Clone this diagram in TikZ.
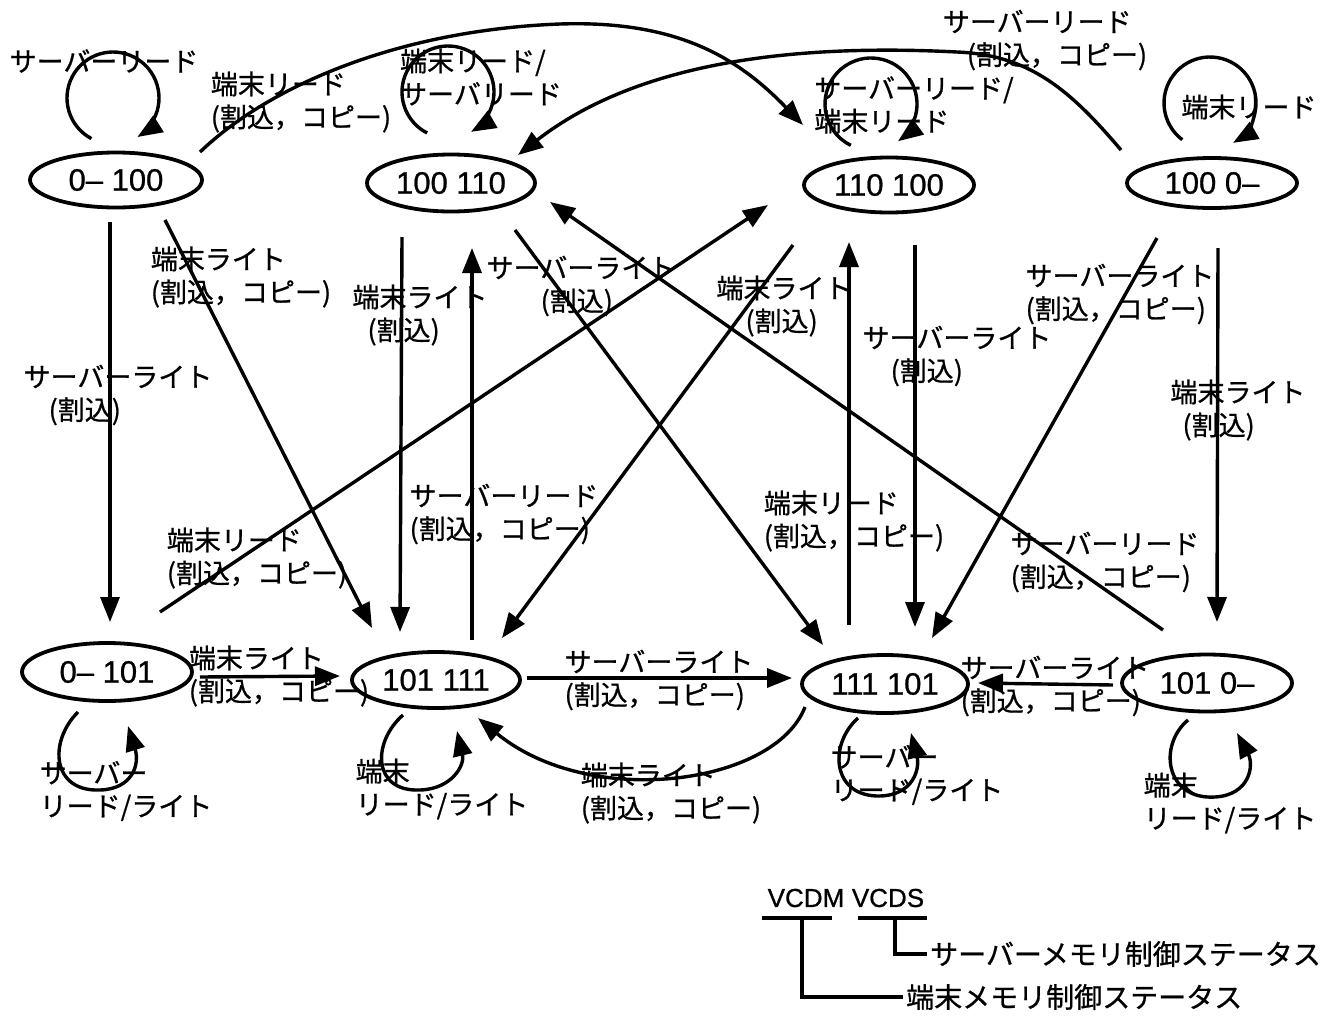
\documentclass[tikz,border=0pt]{standalone}
\usepackage{fontspec}
\setmainfont[FakeBold=0.8]{Noto Sans CJK JP}
\newfontfamily\numfont[FakeBold=0.8]{Liberation Sans}
\usetikzlibrary{shapes.geometric,arrows.meta,calc}
\newcommand\lblsz{\fontsize{27}{33}\selectfont}
\newcommand\stsz{\numfont\fontsize{31}{36}\selectfont}
\newcommand\lgsz{\fontsize{28}{34}\selectfont}
\newcommand\lgnum{\numfont\fontsize{26}{32}\selectfont}
\begin{document}
\begin{tikzpicture}[x=1pt,y=-1pt,
  st/.style={ellipse,draw,line width=3.8pt,inner sep=0pt,font=\stsz},
  lb/.style={font=\lblsz,align=left,inner sep=0pt},
  arr/.style={line width=3.4pt,-{Triangle[length=25pt,width=19pt]}},
  ln/.style={line width=3.3pt},
  lg/.style={font=\lgsz,inner sep=0pt}]
\path[fill=white] (0,0) rectangle (1333,1015);
\useasboundingbox (0,0) rectangle (1333,1015);

% states
\node[st,minimum width=172pt,minimum height=55pt] (A) at (116,180) {0– 100};
\node[st,minimum width=168pt,minimum height=57pt] (B) at (451,183) {100 110};
\node[st,minimum width=170pt,minimum height=55pt] (C) at (889,185) {110 100};
\node[st,minimum width=170pt,minimum height=50pt] (D) at (1212,183) {100 0–};
\node[st,minimum width=170pt,minimum height=58pt] (E) at (107,672) {0– 101};
\node[st,minimum width=168pt,minimum height=56pt] (F) at (436,680) {101 111};
\node[st,minimum width=166pt,minimum height=58pt] (G) at (885,684) {111 101};
\node[st,minimum width=170pt,minimum height=57pt] (H) at (1207,683) {101 0–};

% labels
\node[lb] (l1) at (104,61) {サーバーリード};
\node[lb] (l2) at (301,102) {端末リード\\(割込，コピー)};
\node[lb] (l3) at (481,77) {端末リード/\\サーバリード};
\node[lb] (l4) at (914,105) {サーバーリード/\\端末リード};
\node[lb] (l5) at (1045,40) {サーバーリード\\\hspace*{24pt}(割込，コピー)};
\node[lb] (l6) at (1249,107) {端末リード};
\node[lb] (l7) at (118,395) {サーバーライト\\\hspace*{25pt}(割込)};
\node[lb] (l8) at (241,277) {端末ライト\\(割込，コピー)};
\node[lb] (l9) at (420,315) {端末ライト\\\hspace*{15pt}(割込)};
\node[lb] (l10) at (581,286) {サーバーライト\\\hspace*{54pt}(割込)};
\node[lb] (l11) at (504,514) {サーバーリード\\(割込，コピー)};
\node[lb] (l12) at (257,558) {端末リード\\(割込，コピー)};
\node[lb] (l13) at (784,306) {端末ライト\\\hspace*{29pt}(割込)};
\node[lb] (l14) at (957,356) {サーバーライト\\\hspace*{28pt}(割込)};
\node[lb] (l15) at (854,521) {端末リード\\(割込，コピー)};
\node[lb] (l16) at (1120,294) {サーバーライト\\(割込，コピー)};
\node[lb] (l17) at (1238,410) {端末ライト\\\hspace*{12pt}(割込)};
\node[lb] (l18) at (1105,562) {サーバーリード\\(割込，コピー)};
\node[lb] (l19) at (279,676) {端末ライト\\(割込，コピー)};
\node[lb] (l20) at (126,791) {サーバー\\リード/ライト};
\node[lb] (l21) at (442,789) {端末\\リード/ライト};
\node[lb] (l22) at (659,680) {サーバーライト\\(割込，コピー)};
\node[lb] (l23) at (671,793) {端末ライト\\(割込，コピー)};
\node[lb] (l24) at (917,775) {サーバー\\リード/ライト};
\node[lb] (l25) at (1055,686) {サーバーライト\\(割込，コピー)};
\node[lb] (l26) at (1230,803) {端末\\リード/ライト};

% long curves at the top
\draw[arr] ($(A)+(84,-28)$) .. controls (270,85) and (400,30) .. (560,24)
  .. controls (680,20) and (740,60) .. ($(C)+(-86,-60)$);
\draw[arr] ($(D)+(-91,-33)$) .. controls (1070,90) and (1030,55) .. (957,52)
  .. controls (800,44) and (640,60) .. ($(B)+(67,-28)$);

% self loops (top)
\draw[arr] ($(A)+(-3,-82)+(118:46)$) arc[start angle=118,end angle=418,radius=46];
\draw[arr] ($(B)+(-3,-91)+(117:46)$) arc[start angle=117,end angle=420,radius=46];
\draw[arr] ($(C)+(-18,-81)+(116:46)$) arc[start angle=116,end angle=414,radius=46];
\draw[arr] ($(D)+(-2,-80)+(127:46)$) arc[start angle=127,end angle=420,radius=46];

% self loops (bottom)
\draw[arr] ($(E)+(-29,40)$) .. controls ($(E)+(-59,70)$) and ($(E)+(-55,120)$) .. ($(E)+(-7,118)$)
  .. controls ($(E)+(25,117)$) and ($(E)+(33,93)$) .. ($(E)+(21,54)$);
\draw[arr] ($(F)+(-33,35)$) .. controls ($(F)+(-64,62)$) and ($(F)+(-64,112)$) .. ($(F)+(-16,110)$)
  .. controls ($(F)+(16,109)$) and ($(F)+(29,85)$) .. ($(F)+(21,51)$);
\draw[arr] ($(G)+(-27,34)$) .. controls ($(G)+(-57,61)$) and ($(G)+(-53,113)$) .. ($(G)+(-5,112)$)
  .. controls ($(G)+(29,111)$) and ($(G)+(35,84)$) .. ($(G)+(26,49)$);
\draw[arr] ($(H)+(-19,37)$) .. controls ($(H)+(-49,62)$) and ($(H)+(-42,117)$) .. ($(H)+(8,114)$)
  .. controls ($(H)+(43,112)$) and ($(H)+(47,82)$) .. ($(H)+(30,50)$);

% straight transitions
\draw[arr] ($(A)+(-6,42)$) -- ($(E)+(3,-50)$);
\draw[arr] ($(A)+(49,40)$) -- ($(F)+(-64,-52)$);
\draw[arr] ($(B)+(-49,54)$) -- ($(F)+(-36,-48)$);
\draw[arr] ($(F)+(36,-40)$) -- ($(B)+(21,65)$);
\draw[arr] ($(B)+(64,47)$) -- ($(G)+(-62,-39)$);
\draw[arr] ($(H)+(-44,-53)$) -- ($(B)+(99,19)$);
\draw[arr] ($(E)+(53,-60)$) -- ($(C)+(-121,20)$);
\draw[arr] ($(C)+(-96,60)$) -- ($(F)+(66,-42)$);
\draw[arr] ($(G)+(-36,-59)$) -- ($(C)+(-40,57)$);
\draw[arr] ($(C)+(26,60)$) -- ($(G)+(30,-57)$);
\draw[arr] ($(D)+(-55,55)$) -- ($(G)+(47,-46)$);
\draw[arr] ($(D)+(6,65)$) -- ($(H)+(10,-61)$);
\draw[arr] ($(E)+(93,5)$) -- ($(F)+(-96,-4)$);
\draw[arr] ($(F)+(91,-2)$) -- ($(G)+(-93,-6)$);
\draw[arr] ($(H)+(-94,2)$) -- ($(G)+(93,-1)$);
\draw[arr] ($(G)+(-80,23)$) .. controls (775,785) and (590,810) .. ($(F)+(42,38)$);

% legend
\node[lg,font=\lgnum] (vm) at (806,898) {VCDM};
\node[lg,font=\lgnum] (vs) at (888,898) {VCDS};
\node[lg,anchor=west] (ls) at (930,954) {サーバーメモリ制御ステータス};
\node[lg,anchor=west] (lt) at (906,997) {端末メモリ制御ステータス};
\draw[ln] ($(vm)+(-44,20)$) -- ($(vm)+(26,20)$);
\draw[ln] ($(vs)+(-30,20)$) -- ($(vs)+(39,20)$);
\draw[ln,shorten >=3pt] ($(vm)+(-4,20)$) |- (lt.west);
\draw[ln,shorten >=3pt] ($(vs)+(7,20)$) |- (ls.west);
\end{tikzpicture}
\end{document}
